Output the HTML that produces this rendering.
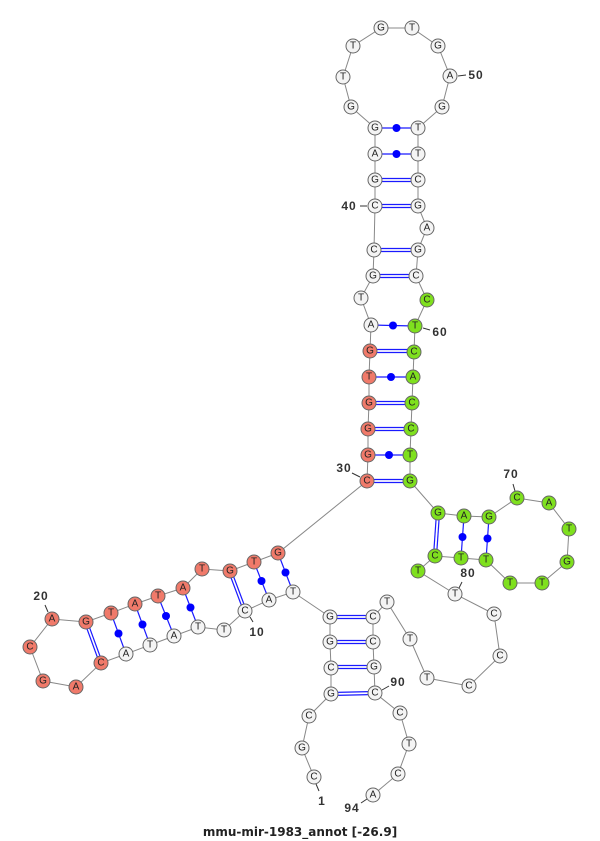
<!DOCTYPE html>
<html><head><meta charset="utf-8"><style>
html,body{margin:0;padding:0;background:#fff;}
svg{display:block;}
.n{stroke:#666;stroke-width:1;}
.w{fill:#f4f4f4}.r{fill:#f07a6a}.g{fill:#7fe01e}
text{font-family:"Liberation Sans",sans-serif;}
.t{font-size:10px;text-anchor:middle;dominant-baseline:central;fill:#222;}
.l{font-family:"Liberation Serif",serif;font-size:12px;font-weight:bold;fill:#333;text-anchor:middle;dominant-baseline:central;letter-spacing:1px;}
.p{stroke:#1a1aff;stroke-width:1.2;}
</style></head><body>
<svg width="600" height="841" viewBox="0 0 600 841" xmlns="http://www.w3.org/2000/svg">
<polyline fill="none" stroke="#888" stroke-width="1" points="314,777 302,748 309,716 331,694 331,668 330,642 330,617 293,592 269,600 245,611 224,630 198,627 174,636 150,645 126,654 101,663 76,687 43,681 30,647 52,619 86,622 111,613 135,604 158,596 183,588 202,569 230,571 254,562 278,553 367,481 368,455 368,429 369,403 369,377 370,351 371,325 361,298 373,276 374,250 375,206 375,180 375,154 375,128 351,107 343,77 353,46 381,28 412,28 438,46 450,76 442,107 418,128 418,154 418,180 418,206 427,228 418,250 416,276 427,300 415,326 414,352 413,377 412,403 411,429 410,455 410,481 438,513 464,516 489,517 517,498 549,503 569,529 567,562 542,583 510,583 486,560 461,558 435,556 418,571 455,594 494,614 500,656 469,686 427,678 410,639 387,602 373,617 373,642 374,667 375,693 400,713 409,744 398,774 373,795"/>
<g class="p">
<line x1="331" y1="692.5" x2="375" y2="691.5"/><line x1="331" y1="695.5" x2="375" y2="694.5"/>
<line x1="331" y1="665.5" x2="374" y2="665.5"/><line x1="331" y1="668.5" x2="374" y2="668.5"/>
<line x1="330" y1="640.5" x2="373" y2="640.5"/><line x1="330" y1="643.5" x2="373" y2="643.5"/>
<line x1="330" y1="615.5" x2="373" y2="615.5"/><line x1="330" y1="618.5" x2="373" y2="618.5"/>
<line x1="228.5" y1="571" x2="243.5" y2="611"/><line x1="231.5" y1="571" x2="246.5" y2="611"/>
<line x1="84.5" y1="622" x2="99.5" y2="663"/><line x1="87.5" y1="622" x2="102.5" y2="663"/>
<line x1="367" y1="479.5" x2="410" y2="479.5"/><line x1="367" y1="482.5" x2="410" y2="482.5"/>
<line x1="368" y1="427.5" x2="411" y2="427.5"/><line x1="368" y1="430.5" x2="411" y2="430.5"/>
<line x1="369" y1="401.5" x2="412" y2="401.5"/><line x1="369" y1="404.5" x2="412" y2="404.5"/>
<line x1="370" y1="349.5" x2="414" y2="349.5"/><line x1="370" y1="352.5" x2="414" y2="352.5"/>
<line x1="373" y1="274.5" x2="416" y2="274.5"/><line x1="373" y1="277.5" x2="416" y2="277.5"/>
<line x1="374" y1="248.5" x2="418" y2="248.5"/><line x1="374" y1="251.5" x2="418" y2="251.5"/>
<line x1="375" y1="204.5" x2="418" y2="204.5"/><line x1="375" y1="207.5" x2="418" y2="207.5"/>
<line x1="375" y1="178.5" x2="418" y2="178.5"/><line x1="375" y1="181.5" x2="418" y2="181.5"/>
<line x1="436.5" y1="513" x2="433.5" y2="556"/><line x1="439.5" y1="513" x2="436.5" y2="556"/>
<line x1="293" y1="592" x2="278" y2="553"/>
<line x1="269" y1="600" x2="254" y2="562"/>
<line x1="174" y1="636" x2="158" y2="596"/>
<line x1="150" y1="645" x2="135" y2="604"/>
<line x1="126" y1="654" x2="111" y2="613"/>
<line x1="198" y1="627" x2="183" y2="588"/>
<line x1="368" y1="455" x2="410" y2="455"/>
<line x1="369" y1="377" x2="413" y2="377"/>
<line x1="371" y1="325" x2="415" y2="326"/>
<line x1="375" y1="154" x2="418" y2="154"/>
<line x1="375" y1="128" x2="418" y2="128"/>
<line x1="464" y1="516" x2="461" y2="558"/>
<line x1="489" y1="517" x2="486" y2="560"/>
</g>
<g fill="#0000ff">
<circle cx="285.5" cy="572.5" r="4"/><circle cx="261.5" cy="581" r="4"/>
<circle cx="166" cy="616" r="4"/><circle cx="142.5" cy="624.5" r="4"/>
<circle cx="118.5" cy="633.5" r="4"/><circle cx="190.5" cy="607.5" r="4"/>
<circle cx="389" cy="455" r="4"/><circle cx="391" cy="377" r="4"/>
<circle cx="393" cy="325.5" r="4"/><circle cx="396.5" cy="154" r="4"/>
<circle cx="396.5" cy="128" r="4"/><circle cx="462.5" cy="537" r="4"/>
<circle cx="487.5" cy="538.5" r="4"/>
</g>
<g stroke="#333" stroke-width="1">
<line x1="316" y1="784" x2="319" y2="791"/>
<line x1="250" y1="617" x2="253" y2="622"/>
<line x1="48" y1="612" x2="45" y2="605"/>
<line x1="360" y1="477" x2="352" y2="473"/>
<line x1="367" y1="206" x2="360" y2="206"/>
<line x1="458" y1="76" x2="466" y2="75"/>
<line x1="423" y1="328" x2="430" y2="330"/>
<line x1="515" y1="491" x2="513" y2="484"/>
<line x1="459" y1="588" x2="462" y2="582"/>
<line x1="382" y1="690" x2="389" y2="686"/>
<line x1="367" y1="799" x2="361" y2="803"/>
</g>
<g class="n">
<circle class="w" cx="314" cy="777" r="7"/><circle class="w" cx="302" cy="748" r="7"/><circle class="w" cx="309" cy="716" r="7"/><circle class="w" cx="331" cy="694" r="7"/><circle class="w" cx="331" cy="668" r="7"/><circle class="w" cx="330" cy="642" r="7"/><circle class="w" cx="330" cy="617" r="7"/><circle class="w" cx="293" cy="592" r="7"/><circle class="w" cx="269" cy="600" r="7"/><circle class="w" cx="245" cy="611" r="7"/><circle class="w" cx="224" cy="630" r="7"/><circle class="w" cx="198" cy="627" r="7"/><circle class="w" cx="174" cy="636" r="7"/><circle class="w" cx="150" cy="645" r="7"/><circle class="w" cx="126" cy="654" r="7"/>
<circle class="r" cx="101" cy="663" r="7"/><circle class="r" cx="76" cy="687" r="7"/><circle class="r" cx="43" cy="681" r="7"/><circle class="r" cx="30" cy="647" r="7"/><circle class="r" cx="52" cy="619" r="7"/><circle class="r" cx="86" cy="622" r="7"/><circle class="r" cx="111" cy="613" r="7"/><circle class="r" cx="135" cy="604" r="7"/><circle class="r" cx="158" cy="596" r="7"/><circle class="r" cx="183" cy="588" r="7"/><circle class="r" cx="202" cy="569" r="7"/><circle class="r" cx="230" cy="571" r="7"/><circle class="r" cx="254" cy="562" r="7"/><circle class="r" cx="278" cy="553" r="7"/><circle class="r" cx="367" cy="481" r="7"/><circle class="r" cx="368" cy="455" r="7"/><circle class="r" cx="368" cy="429" r="7"/><circle class="r" cx="369" cy="403" r="7"/><circle class="r" cx="369" cy="377" r="7"/><circle class="r" cx="370" cy="351" r="7"/>
<circle class="w" cx="371" cy="325" r="7"/><circle class="w" cx="361" cy="298" r="7"/><circle class="w" cx="373" cy="276" r="7"/><circle class="w" cx="374" cy="250" r="7"/><circle class="w" cx="375" cy="206" r="7"/><circle class="w" cx="375" cy="180" r="7"/><circle class="w" cx="375" cy="154" r="7"/><circle class="w" cx="375" cy="128" r="7"/><circle class="w" cx="351" cy="107" r="7"/><circle class="w" cx="343" cy="77" r="7"/><circle class="w" cx="353" cy="46" r="7"/><circle class="w" cx="381" cy="28" r="7"/><circle class="w" cx="412" cy="28" r="7"/><circle class="w" cx="438" cy="46" r="7"/><circle class="w" cx="450" cy="76" r="7"/><circle class="w" cx="442" cy="107" r="7"/><circle class="w" cx="418" cy="128" r="7"/><circle class="w" cx="418" cy="154" r="7"/><circle class="w" cx="418" cy="180" r="7"/><circle class="w" cx="418" cy="206" r="7"/><circle class="w" cx="427" cy="228" r="7"/><circle class="w" cx="418" cy="250" r="7"/><circle class="w" cx="416" cy="276" r="7"/>
<circle class="g" cx="427" cy="300" r="7"/><circle class="g" cx="415" cy="326" r="7"/><circle class="g" cx="414" cy="352" r="7"/><circle class="g" cx="413" cy="377" r="7"/><circle class="g" cx="412" cy="403" r="7"/><circle class="g" cx="411" cy="429" r="7"/><circle class="g" cx="410" cy="455" r="7"/><circle class="g" cx="410" cy="481" r="7"/><circle class="g" cx="438" cy="513" r="7"/><circle class="g" cx="464" cy="516" r="7"/><circle class="g" cx="489" cy="517" r="7"/><circle class="g" cx="517" cy="498" r="7"/><circle class="g" cx="549" cy="503" r="7"/><circle class="g" cx="569" cy="529" r="7"/><circle class="g" cx="567" cy="562" r="7"/><circle class="g" cx="542" cy="583" r="7"/><circle class="g" cx="510" cy="583" r="7"/><circle class="g" cx="486" cy="560" r="7"/><circle class="g" cx="461" cy="558" r="7"/><circle class="g" cx="435" cy="556" r="7"/><circle class="g" cx="418" cy="571" r="7"/>
<circle class="w" cx="455" cy="594" r="7"/><circle class="w" cx="494" cy="614" r="7"/><circle class="w" cx="500" cy="656" r="7"/><circle class="w" cx="469" cy="686" r="7"/><circle class="w" cx="427" cy="678" r="7"/><circle class="w" cx="410" cy="639" r="7"/><circle class="w" cx="387" cy="602" r="7"/><circle class="w" cx="373" cy="617" r="7"/><circle class="w" cx="373" cy="642" r="7"/><circle class="w" cx="374" cy="667" r="7"/><circle class="w" cx="375" cy="693" r="7"/><circle class="w" cx="400" cy="713" r="7"/><circle class="w" cx="409" cy="744" r="7"/><circle class="w" cx="398" cy="774" r="7"/><circle class="w" cx="373" cy="795" r="7"/>
</g>
<g class="t">
<text x="314" y="777">C</text><text x="302" y="748">G</text><text x="309" y="716">C</text><text x="331" y="694">G</text><text x="331" y="668">C</text><text x="330" y="642">G</text><text x="330" y="617">G</text><text x="293" y="592">T</text><text x="269" y="600">A</text><text x="245" y="611">C</text><text x="224" y="630">T</text><text x="198" y="627">T</text><text x="174" y="636">A</text><text x="150" y="645">T</text><text x="126" y="654">A</text>
<text x="101" y="663">C</text><text x="76" y="687">A</text><text x="43" y="681">G</text><text x="30" y="647">C</text><text x="52" y="619">A</text><text x="86" y="622">G</text><text x="111" y="613">T</text><text x="135" y="604">A</text><text x="158" y="596">T</text><text x="183" y="588">A</text><text x="202" y="569">T</text><text x="230" y="571">G</text><text x="254" y="562">T</text><text x="278" y="553">G</text><text x="367" y="481">C</text><text x="368" y="455">G</text><text x="368" y="429">G</text><text x="369" y="403">G</text><text x="369" y="377">T</text><text x="370" y="351">G</text>
<text x="371" y="325">A</text><text x="361" y="298">T</text><text x="373" y="276">G</text><text x="374" y="250">C</text><text x="375" y="206">C</text><text x="375" y="180">G</text><text x="375" y="154">A</text><text x="375" y="128">G</text><text x="351" y="107">G</text><text x="343" y="77">T</text><text x="353" y="46">T</text><text x="381" y="28">G</text><text x="412" y="28">T</text><text x="438" y="46">G</text><text x="450" y="76">A</text><text x="442" y="107">G</text><text x="418" y="128">T</text><text x="418" y="154">T</text><text x="418" y="180">C</text><text x="418" y="206">G</text><text x="427" y="228">A</text><text x="418" y="250">G</text><text x="416" y="276">C</text>
<text x="427" y="300">C</text><text x="415" y="326">T</text><text x="414" y="352">C</text><text x="413" y="377">A</text><text x="412" y="403">C</text><text x="411" y="429">C</text><text x="410" y="455">T</text><text x="410" y="481">G</text><text x="438" y="513">G</text><text x="464" y="516">A</text><text x="489" y="517">G</text><text x="517" y="498">C</text><text x="549" y="503">A</text><text x="569" y="529">T</text><text x="567" y="562">G</text><text x="542" y="583">T</text><text x="510" y="583">T</text><text x="486" y="560">T</text><text x="461" y="558">T</text><text x="435" y="556">C</text><text x="418" y="571">T</text>
<text x="455" y="594">T</text><text x="494" y="614">C</text><text x="500" y="656">C</text><text x="469" y="686">C</text><text x="427" y="678">T</text><text x="410" y="639">T</text><text x="387" y="602">T</text><text x="373" y="617">C</text><text x="373" y="642">C</text><text x="374" y="667">G</text><text x="375" y="693">C</text><text x="400" y="713">C</text><text x="409" y="744">T</text><text x="398" y="774">C</text><text x="373" y="795">A</text>
</g>
<g class="l">
<text x="322" y="801">1</text><text x="257" y="632">10</text><text x="41" y="596">20</text><text x="344" y="468">30</text><text x="349" y="206">40</text><text x="476" y="75">50</text><text x="440" y="332">60</text><text x="511" y="474">70</text><text x="468" y="573">80</text><text x="398" y="682">90</text><text x="352" y="808">94</text>
</g>
<text x="300" y="832" text-anchor="middle" dominant-baseline="central" style="font-family:'DejaVu Sans','Liberation Sans',sans-serif;font-size:12px;font-weight:bold;fill:#222">mmu-mir-1983_annot [-26.9]</text>
</svg>
</body></html>
